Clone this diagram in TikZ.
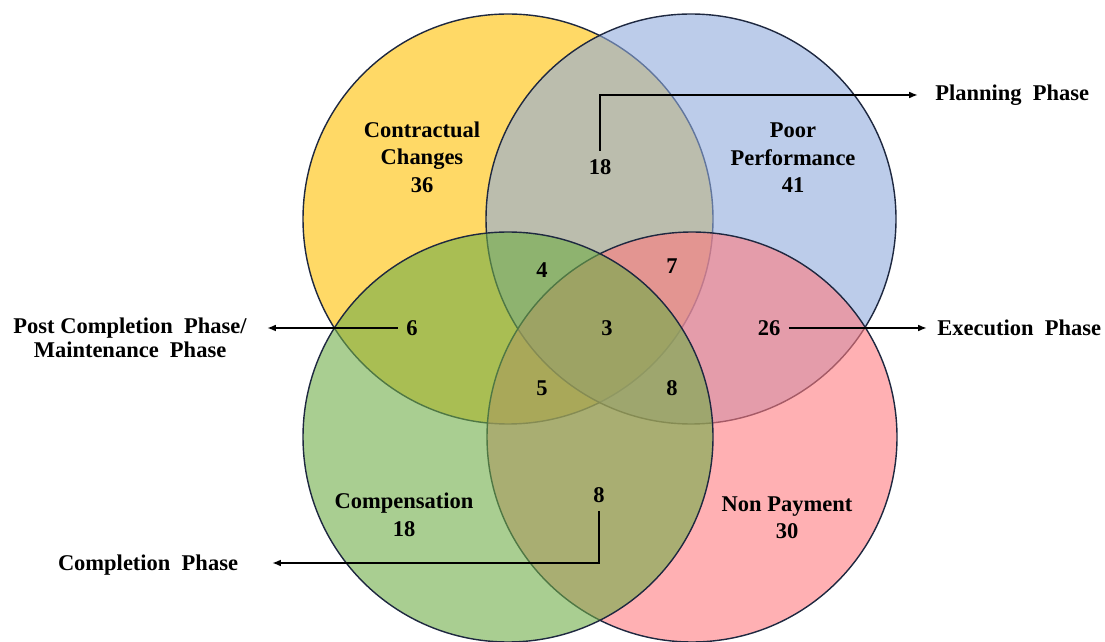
\documentclass[tikz,border=0pt]{standalone}
\usepackage{fontspec}
\setmainfont{Liberation Serif}
\usetikzlibrary{arrows.meta}

\definecolor{cyellow}{RGB}{255,192,0}
\definecolor{cblue}{RGB}{143,170,220}
\definecolor{cgreen}{RGB}{112,173,71}
\definecolor{cpink}{RGB}{255,124,128}
\definecolor{cline}{RGB}{30,40,64}

\begin{document}
\begin{tikzpicture}[x=0.025cm, y=-0.025cm,
	set/.style = {draw=cline, line width=1pt, fill opacity=0.6},
	txt/.style = {font=\fontsize{16}{19.5}\selectfont\bfseries, align=center, inner sep=2pt},
	num/.style = {txt, inner sep=6pt},
	phase/.style = {txt, inner sep=0pt},
	arr/.style = {line width=1.3pt, -{Latex[length=2.2mm,width=1.7mm]}},]
	
	\useasboundingbox (0,0) rectangle (1105,642);
	
	% the four sets
	\filldraw[set, fill=cyellow] (508,219) circle (205);
	\filldraw[set, fill=cblue] (691,219) circle (205);
	\filldraw[set, fill=cpink] (692,437) circle (205);
	\filldraw[set, fill=cgreen] (508,437) circle (205);
	
	% set names
	\node[txt] (CC) at (422,157) {Contractual\\Changes\\36};
	\node[txt] (PP) at (793,158) {Poor\\Performance\\41};
	\node[txt] (CO) at (404,515) {Compensation\\18};
	\node[txt] (NP) at (787,518) {Non Payment\\30};
	
	% overlaps
	\node[num] (N18) at (600,167) {18};
	\node[num] (N4) at (542,270) {4};
	\node[num] (N7) at (672,266) {7};
	\node[num] (N6) at (412,328) {6};
	\node[num] (N3) at (607,328) {3};
	\node[num] (N26) at (769,328) {26};
	\node[num] (N5) at (542,388) {5};
	\node[num] (N8) at (672,388) {8};
	\node[num] (M8) at (599,495) {8};
	
	% phases
	\coordinate (PlanTip) at (918,95);
	\coordinate (PostTip) at (267,328);
	\coordinate (ExecTip) at (927,328);
	\coordinate (CompTip) at (272,563);
	
	\node[phase, anchor=west] (Plan) at (935,95) {Planning~~Phase};
	\node[phase, font=\fontsize{16}{17}\selectfont\bfseries] (Post) at (130,338) {Post Completion~~Phase/\\Maintenance~~Phase};
	\node[phase, anchor=west] (Exec) at (937,328) {Execution~~Phase};
	\node[phase] (Comp) at (148,565) {Completion~~Phase};
	
	\draw[arr] (N18.north) |- (PlanTip);
	\draw[arr] (N6.west) -- (PostTip);
	\draw[arr] (N26.east) -- (ExecTip);
	\draw[arr] (M8.south) |- (CompTip);
	
\end{tikzpicture}
\end{document}
